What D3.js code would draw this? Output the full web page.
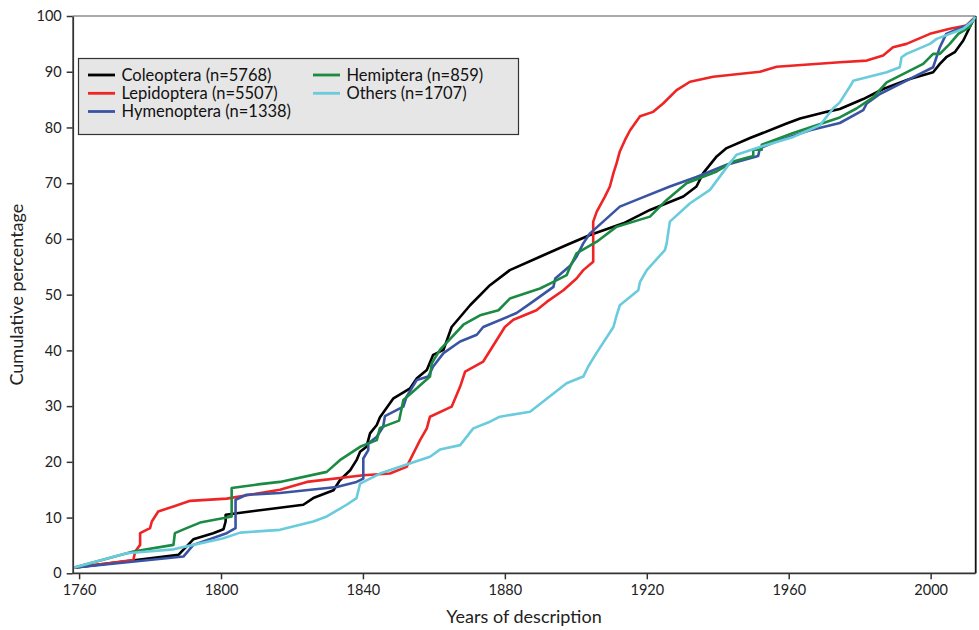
<!DOCTYPE html>
<html>
  <head>
    <meta charset="utf-8" />
    <script src="https://d3js.org/d3.v7.min.js"></script>
    <style>
      body {
        margin: 0px;
        background: white;
        font-family: Lato, sans-serif;
      }
      .tick text {
        fill: #222;
        font-size: 14.5px;
      }
      .axis-label {
        fill: #222;
        font-size: 18px;
      }
    </style>
  </head>
  <body>
    <script>
      // [year, cumulative %]
      const coleoptera = [
        [1758.4, 1], [1788, 3.3], [1792.2, 6.1], [1797.8, 7.2], [1800.7, 7.9],
        [1801.3, 9.3], [1801.3, 10.5], [1808.2, 11.1], [1823.2, 12.3], [1826, 13.5],
        [1831.7, 14.9], [1833.5, 16.7], [1836.4, 18.5], [1838.2, 20.3], [1839.2, 21.8],
        [1841, 22.7], [1842, 25.1], [1843.9, 26.6], [1844.8, 28], [1848.6, 31.4], [1853.3, 33.2],
        [1855.2, 35], [1858, 36.5], [1859.8, 39.2], [1862.7, 40.1], [1865, 44.2],
        [1870.2, 48.1], [1875.8, 51.7], [1881.4, 54.4], [1889.9, 56.8], [1897.4, 58.9],
        [1904, 60.7], [1913.4, 62.8], [1920.9, 65.2], [1930.3, 67.6], [1934, 69.4],
        [1935.9, 71.8], [1939.7, 74.8], [1942.5, 76.3], [1949.1, 78.1], [1959.4, 80.7], [1963.2, 81.6],
        [1970.7, 82.8], [1974.4, 83.3], [1981, 85.1], [1986.6, 86.9], [1994.1, 88.7],
        [2000.7, 89.9], [2002.6, 91.4], [2004.4, 92.6], [2006.8, 93.5], [2009.2, 95.6],
        [2011.5, 98.6], [2012.5, 99.9]
      ];
      const lepidoptera = [
        [1758.4, 1], [1775.3, 2.4], [1775.8, 3.9], [1777.2, 5.1], [1777.2, 7.2],
        [1780, 8.1], [1780.5, 9.3], [1782.3, 11.1], [1786.6, 12], [1791.3, 13],
        [1801.6, 13.4], [1816.6, 15], [1824.2, 16.4], [1840.1, 17.6], [1847.6, 17.9],
        [1852.3, 19.1], [1856.1, 23.9], [1858, 26], [1858.9, 28.1], [1865, 29.9], [1867.4, 33.5],
        [1868.8, 36.2], [1873.9, 38], [1880, 44.2], [1882.4, 45.5], [1888.9, 47.2],
        [1891.8, 48.7], [1896.5, 50.8], [1900.2, 52.9], [1902.1, 54.4], [1904.9, 55.9],
        [1904.9, 63.1], [1905.9, 64.9], [1908.2, 67.6], [1909.6, 69.4], [1910.6, 71.8],
        [1911.5, 73.6], [1912.4, 75.7], [1913.9, 77.8], [1915.3, 79.5], [1918.1, 82],
        [1921.8, 82.8], [1924.6, 84.3], [1928.4, 86.7], [1932.2, 88.2], [1938.7, 89.1],
        [1951.9, 90], [1956.6, 90.9], [1974.4, 91.7], [1982, 92], [1986.6, 92.9],
        [1989.4, 94.4], [1993.2, 95], [1999.8, 96.8], [2005.4, 97.7], [2010.1, 98.3],
        [2012.5, 99.8]
      ];
      const hymenoptera = [
        [1758.4, 1], [1789.4, 3], [1792.2, 5.1], [1801.6, 7.2], [1804.1, 8.1],
        [1804.1, 13.2], [1807.2, 14.1], [1816.6, 14.4], [1832.6, 15.5], [1838.2, 16.4],
        [1840.1, 17], [1840.1, 20.6], [1841.5, 22.1], [1841.5, 23.3], [1843.9, 24.5],
        [1845.7, 26.3], [1846.2, 28.2], [1851.4, 29.9],
        [1852.3, 31.7], [1855.2, 34.7], [1858.4, 35.3], [1859.8, 37.1], [1862.7, 39.5],
        [1867.4, 41.6], [1872.1, 42.8], [1873.9, 44.2], [1883.3, 46.7], [1887.1, 48.4],
        [1893.7, 51.4], [1894.2, 52.9], [1898.4, 55.2], [1900.2, 56.8], [1902.1, 59.2],
        [1904, 61], [1907.7, 63.1], [1912.4, 65.8], [1917.1, 67], [1926.5, 69.4],
        [1934, 71.1], [1942.5, 73.3], [1951.4, 74.9],
        [1951.9, 76.3], [1956.6, 77.5], [1966, 79.5], [1974.4, 80.8], [1981, 83.1],
        [1982, 84.3], [1985.7, 86], [1993.2, 88.4], [2000.7, 90.8], [2002.6, 94.4],
        [2004.4, 96.8], [2010.1, 98.3], [2012.5, 99.6]
      ];
      const hemiptera = [
        [1758.4, 1], [1775.3, 3.9], [1786.6, 5.1], [1787, 7.2], [1790.3, 8.1],
        [1794.1, 9.1], [1801.6, 10], [1803, 10.2], [1803, 15.3], [1811, 16],
        [1816.6, 16.4], [1829.8, 18.2], [1833.5, 20.3], [1839.2, 22.7], [1843.9, 23.9],
        [1844.8, 26.1], [1850.2, 27.4], [1851.4, 31.1], [1855.2, 33.2], [1858.9, 35.3],
        [1859.4, 37.7], [1861.7, 40.1], [1868.3, 44.6], [1873, 46.3], [1878.2, 47.2],
        [1881.4, 49.3], [1889.9, 51.1], [1893.7, 52.3], [1897.4, 53.5], [1898.4, 55],
        [1900.2, 57.4], [1905.9, 59.5], [1911.5, 62.2], [1920.9, 64], [1925.6, 67],
        [1931.2, 70], [1939.7, 72.1], [1944.4, 73.9], [1950, 74.9],
        [1950, 76], [1952.4, 76], [1952.4, 76.9], [1961.3, 79], [1974.4, 81.8],
        [1979.1, 83.4], [1983.8, 85.4], [1987.6, 88.1], [1997.9, 91.4], [2000.7, 93.2],
        [2002.6, 93.2], [2005.4, 95], [2007.8, 96.8], [2011, 98],
        [2012.5, 99.9]
      ];
      const others = [
        [1758.4, 1], [1773.4, 3.6], [1786.6, 4.3], [1792.2, 5.1], [1800.7, 6.3],
        [1805.4, 7.3], [1816.6, 7.8], [1826, 9.3], [1829.8, 10.2], [1835.4, 12.3],
        [1838.2, 13.5], [1839.2, 16.1], [1844.8, 17.9], [1850.4, 19.1], [1858.9, 20.9],
        [1861.7, 22.2], [1867.4, 23], [1871.1, 26], [1875.8, 27.2], [1878.6, 28.1],
        [1887.1, 29], [1897.4, 34.1], [1902.1, 35.3], [1903.5, 37.1], [1905.8, 39.5],
        [1910.6, 44.2], [1911.5, 46.3], [1912.4, 48.1], [1917.6, 50.8], [1918.1, 52.3],
        [1920, 54.4], [1925.1, 58], [1925.6, 59.2], [1926.5, 63.1], [1932.2, 66.4],
        [1937.8, 68.8], [1943.4, 73.6], [1945.3, 75.1], [1951.9, 76.5], [1961.3, 78.3],
        [1968.8, 80.4], [1972.5, 83.4], [1974.4, 84.5], [1977.7, 87.8], [1978.2, 88.4],
        [1987.6, 89.9], [1991.3, 90.8], [1991.8, 92.6], [1993.2, 93.2], [1999.8, 95],
        [2001.7, 95.9], [2009.2, 97.7], [2012, 99.2], [2012.5, 99.9]
      ];

      const seriesNames = [
        'Coleoptera (n=5768)',
        'Lepidoptera (n=5507)',
        'Hymenoptera (n=1338)',
        'Hemiptera (n=859)',
        'Others (n=1707)',
      ];
      const seriesColors = ['#000000', '#ee2524', '#3a54a4', '#1b8a43', '#6acbdc'];
      const xTicks = [1760, 1800, 1840, 1880, 1920, 1960, 2000];
      const yTicks = [0, 10, 20, 30, 40, 50, 60, 70, 80, 90, 100];

      const series = [coleoptera, lepidoptera, hymenoptera, hemiptera, others].map(
        (values, i) => ({ name: seriesNames[i], color: seriesColors[i], values })
      );

      const width = 979;
      const height = 630;
      const plotLeft = 72.7;
      const plotRight = 975.7;
      const plotTop = 16;
      const plotBottom = 573.3;

      const svg = d3
        .select('body')
        .append('svg')
        .attr('width', width)
        .attr('height', height);

      const xScale = d3.scaleLinear().domain([1758.2, 2012.7]).range([plotLeft, plotRight]);
      const yScale = d3.scaleLinear().domain([0, 100]).range([plotBottom, plotTop]);

      // frame (top + right)
      svg
        .append('line')
        .attr('x1', plotLeft).attr('x2', plotRight)
        .attr('y1', plotTop).attr('y2', plotTop)
        .attr('stroke', '#555').attr('stroke-width', 1);
      svg
        .append('line')
        .attr('x1', plotRight).attr('x2', plotRight)
        .attr('y1', plotTop).attr('y2', plotBottom)
        .attr('stroke', '#111').attr('stroke-width', 1.8);

      const line = d3
        .line()
        .x((d) => xScale(d[0]))
        .y((d) => yScale(d[1]));

      svg
        .selectAll('.series')
        .data(series)
        .enter()
        .append('path')
        .attr('class', 'series')
        .attr('fill', 'none')
        .attr('stroke', (d) => d.color)
        .attr('stroke-width', 2.6)
        .attr('stroke-linejoin', 'round')
        .attr('d', (d) => line(d.values));

      const xAxisG = svg
        .append('g')
        .attr('transform', `translate(0,${plotBottom})`)
        .call(d3.axisBottom(xScale).tickValues(xTicks).tickFormat(d3.format('d')).tickSize(6).tickPadding(5).tickSizeOuter(0));
      const yAxisG = svg
        .append('g')
        .attr('transform', `translate(${plotLeft},0)`)
        .call(d3.axisLeft(yScale).tickValues(yTicks).tickSize(6).tickPadding(5).tickSizeOuter(0));

      [xAxisG, yAxisG].forEach((g) => {
        g.select('.domain').attr('stroke', '#333').attr('stroke-width', 1.8);
        g.selectAll('.tick line').attr('stroke', '#333').attr('stroke-width', 1.5);
        g.selectAll('.tick text').attr('font-family', 'Lato, sans-serif');
      });
      xAxisG.select('.domain').attr('d', `M${plotLeft},0H${plotRight}`);

      svg
        .append('text')
        .attr('class', 'axis-label')
        .attr('x', 524)
        .attr('y', 623)
        .attr('text-anchor', 'middle')
        .text('Years of description');

      svg
        .append('text')
        .attr('class', 'axis-label')
        .attr('transform', `translate(23,${(plotTop + plotBottom) / 2}) rotate(-90)`)
        .attr('text-anchor', 'middle')
        .text('Cumulative percentage');

      // legend
      const legend = svg.append('g');
      legend
        .append('rect')
        .attr('x', 78.5).attr('y', 58.5)
        .attr('width', 440).attr('height', 76)
        .attr('fill', '#e6e6e6')
        .attr('stroke', '#333')
        .attr('stroke-width', 1.2);

      const legendPos = [
        [88, 75], [88, 93.3], [88, 111.5], [313, 75], [313, 93.3],
      ];
      const items = legend
        .selectAll('.item')
        .data(series)
        .enter()
        .append('g')
        .attr('class', 'item')
        .attr('transform', (d, i) => `translate(${legendPos[i][0]},${legendPos[i][1]})`);
      items
        .append('line')
        .attr('x1', 0).attr('x2', 27)
        .attr('stroke', (d) => d.color)
        .attr('stroke-width', 2.8);
      items
        .append('text')
        .attr('x', 33.5)
        .attr('dy', '0.35em')
        .attr('font-size', '16.5px')
        .attr('fill', '#111')
        .text((d) => d.name);
    </script>
  </body>
</html>
